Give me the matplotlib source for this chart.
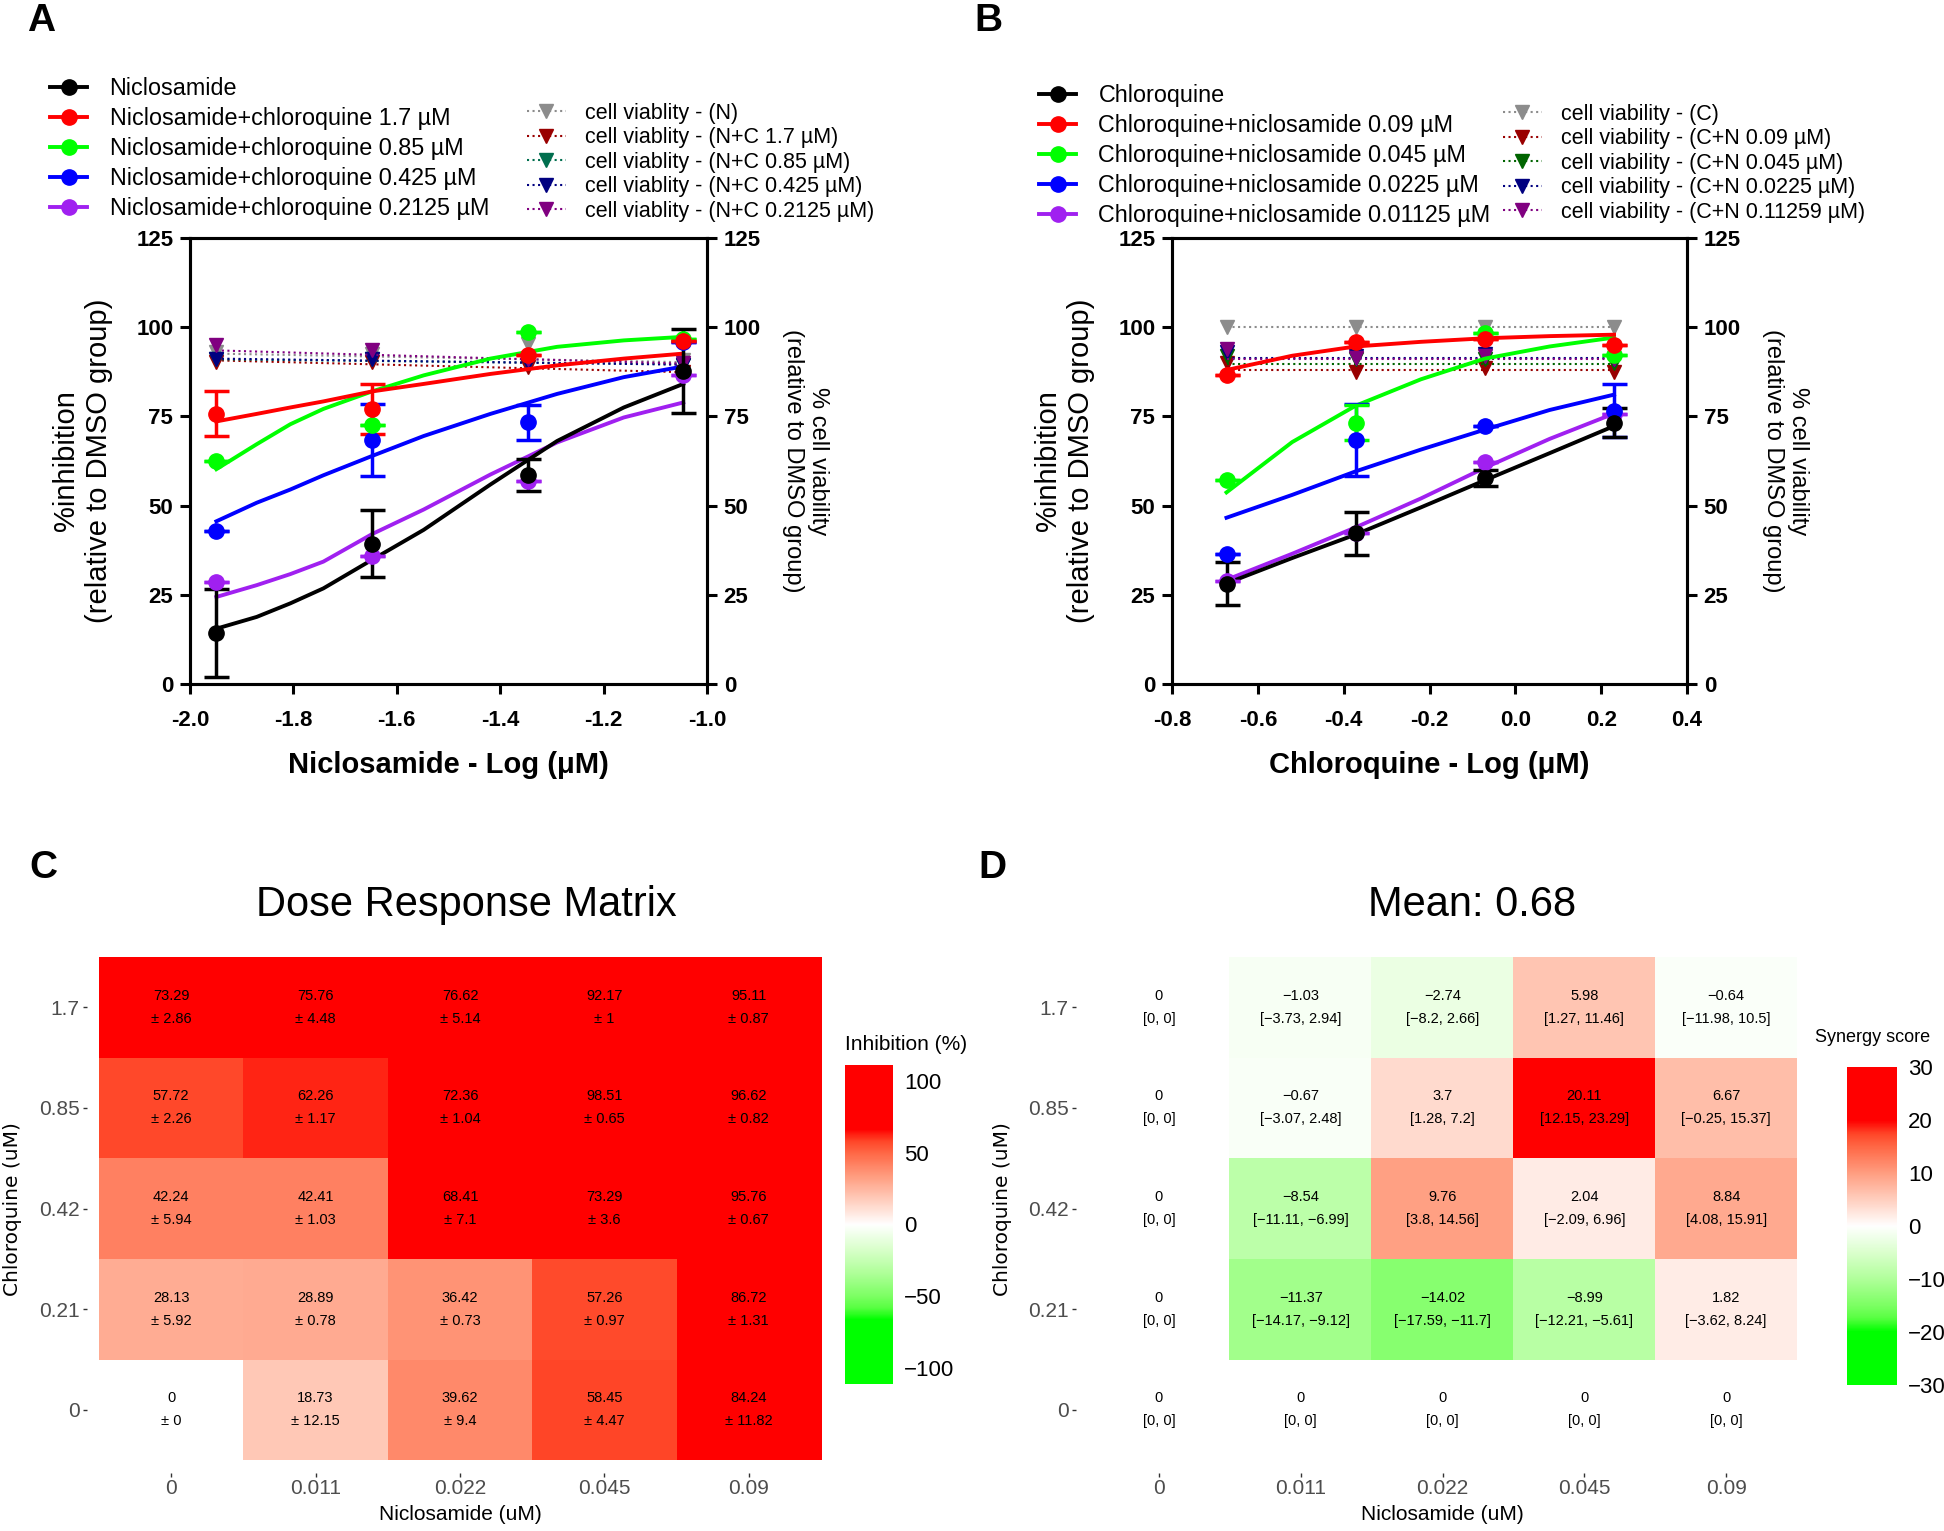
import numpy as np
import matplotlib
matplotlib.use('Agg')
import matplotlib.pyplot as plt
from matplotlib.colors import LinearSegmentedColormap, Normalize
from matplotlib.lines import Line2D

plt.rcParams['font.family'] = ['Liberation Sans', 'DejaVu Sans']
plt.rcParams['axes.unicode_minus'] = False

# ---------------- panel A : niclosamide (log10 uM) ----------------
xA = [-1.949, -1.648, -1.347, -1.046]
namesA = ['Niclosamide', 'Niclosamide+chloroquine 1.7 µM', 'Niclosamide+chloroquine 0.85 µM',
          'Niclosamide+chloroquine 0.425 µM', 'Niclosamide+chloroquine 0.2125 µM']
inhA = [[14.3, 39.3, 58.5, 87.7],
        [75.8, 77.1, 92.1, 96.0],
        [62.5, 72.6, 98.7, 96.62],
        [43.0, 68.4, 73.3, 95.76],
        [28.7, 35.9, 56.9, 86.72]]
errA = [[12.4, 9.4, 4.5, 11.8],
        [6.4, 7.1, 0, 0],
        [0, 0, 0, 0],
        [0, 10.1, 5.0, 0],
        [0, 0, 0, 0]]
# fitted curves
xfitA = [-1.949, -1.871, -1.806, -1.742, -1.648, -1.548, -1.419, -1.290, -1.161, -1.046]
fitA = [[15.5, 18.8, 22.6, 26.8, 34.8, 43.2, 55.9, 68.1, 77.5, 84.1],
        [73.6, 75.7, 77.5, 79.2, 82.0, 84.1, 86.9, 89.3, 91.2, 92.6],
        [60.2, 67.2, 72.8, 77.1, 82.0, 86.5, 91.2, 94.5, 96.3, 97.3],
        [45.6, 50.8, 54.5, 58.5, 63.9, 69.5, 75.7, 81.3, 86.0, 89.0],
        [24.4, 27.7, 30.8, 34.3, 42.0, 48.9, 58.7, 67.7, 74.7, 78.9]]
vnamesA = ['cell viablity - (N)', 'cell viablity - (N+C 1.7 µM)', 'cell viablity - (N+C 0.85 µM)',
           'cell viablity - (N+C 0.425 µM)', 'cell viablity - (N+C 0.2125 µM)']
viabA = [[93.0, 92.6, 95.4, 90.7],
         [90.2, 90.2, 88.8, 87.4],
         [91.0, 91.0, 90.0, 89.5],
         [91.2, 91.0, 90.0, 89.5],
         [94.9, 93.5, 91.0, 90.0]]
viabfitA = [[92.6, 90.2], [90.7, 87.4], [91.0, 89.6], [91.2, 89.5], [93.5, 89.8]]

# ---------------- panel B : chloroquine (log10 uM) ----------------
xB = [-0.673, -0.372, -0.071, 0.230]
namesB = ['Chloroquine', 'Chloroquine+niclosamide 0.09 µM', 'Chloroquine+niclosamide 0.045 µM',
          'Chloroquine+niclosamide 0.0225 µM', 'Chloroquine+niclosamide 0.01125 µM']
inhB = [[28.13, 42.24, 57.72, 73.29],
        [86.72, 95.76, 96.62, 95.11],
        [57.26, 73.29, 98.51, 92.17],
        [36.42, 68.41, 72.36, 76.62],
        [28.89, 42.41, 62.26, 75.76]]
errB = [[6, 6, 2.3, 4],
        [0, 0, 0, 0],
        [0, 5, 0, 0],
        [0, 10, 0, 7.5],
        [0, 0, 0, 0]]
xfitB = [-0.673, -0.52, -0.372, -0.22, -0.071, 0.08, 0.230]
fitB = [[28.2, 35.3, 41.9, 49.5, 57.1, 64.7, 72.3],
        [88, 92, 94.6, 95.9, 96.9, 97.5, 97.9],
        [53.7, 67.8, 78, 85.4, 91.2, 94.6, 97.1],
        [46.6, 53, 59.6, 65.7, 71.3, 76.8, 81.1],
        [29.2, 36.5, 43.9, 52, 60.6, 68.7, 75.8]]
vnamesB = ['cell viability - (C)', 'cell viability - (C+N 0.09 µM)', 'cell viability - (C+N 0.045 µM)',
           'cell viability - (C+N 0.0225 µM)', 'cell viability - (C+N 0.11259 µM)']
viabB = [[100, 100, 100, 100],
         [90, 87.5, 88.5, 87.5],
         [92, 91, 91, 90],
         [93, 92, 92.5, 91],
         [94, 91.5, 92, 91]]
viabfitB = [[100, 100], [88, 88], [89.7, 89.7], [91.5, 91.5], [91, 91]]

colors = ['black', '#ff0000', '#00ff00', '#0000ff', '#a020f0']
vcolorsA = ['#8c8c8c', '#990000', '#006e4e', '#000080', '#800080']
vcolorsB = ['#8c8c8c', '#990000', '#006400', '#000080', '#800080']

# ---------------- panel C / D : heatmaps ----------------
nic_labels = ['0', '0.011', '0.022', '0.045', '0.09']
chl_labels = ['0', '0.21', '0.42', '0.85', '1.7']   # bottom -> top
inhib = [[0, 18.73, 39.62, 58.45, 84.24],
         [28.13, 28.89, 36.42, 57.26, 86.72],
         [42.24, 42.41, 68.41, 73.29, 95.76],
         [57.72, 62.26, 72.36, 98.51, 96.62],
         [73.29, 75.76, 76.62, 92.17, 95.11]]
inhib_sd = [[0, 12.15, 9.4, 4.47, 11.82],
            [5.92, 0.78, 0.73, 0.97, 1.31],
            [5.94, 1.03, 7.1, 3.6, 0.67],
            [2.26, 1.17, 1.04, 0.65, 0.82],
            [2.86, 4.48, 5.14, 1, 0.87]]
syn = [[0, 0, 0, 0, 0],
       [0, -11.37, -14.02, -8.99, 1.82],
       [0, -8.54, 9.76, 2.04, 8.84],
       [0, -0.67, 3.7, 20.11, 6.67],
       [0, -1.03, -2.74, 5.98, -0.64]]
syn_lo = [[0, 0, 0, 0, 0],
          [0, -14.17, -17.59, -12.21, -3.62],
          [0, -11.11, 3.8, -2.09, 4.08],
          [0, -3.07, 1.28, 12.15, -0.25],
          [0, -3.73, -8.2, 1.27, -11.98]]
syn_hi = [[0, 0, 0, 0, 0],
          [0, -9.12, -11.7, -5.61, 8.24],
          [0, -6.99, 14.56, 6.96, 15.91],
          [0, 2.48, 7.2, 23.29, 15.37],
          [0, 2.94, 2.66, 11.46, 10.5]]

cmap = LinearSegmentedColormap.from_list('gwr', [
    (0, '#00ff00'), (0.1667, '#00ff00'), (0.2083, '#58ff42'), (0.25, '#7dff64'),
    (0.3333, '#b1ff9b'), (0.4167, '#dbffcd'), (0.5, '#ffffff'), (0.5833, '#ffcfbf'),
    (0.6667, '#ff9e81'), (0.75, '#ff6846'), (0.7917, '#ff4628'), (0.8333, '#ff0000'),
    (1, '#ff0000')], N=511)

W, H = 1944, 1531
fig = plt.figure(figsize=(W / 100, H / 100), dpi=100)


def frac(x0, y0, x1, y1):
    return [x0 / W, 1 - y1 / H, (x1 - x0) / W, (y1 - y0) / H]


def dose_panel(rect, x, inh, err, xfit, fit, viab, viabfit, vcolors, xlim, xticks, xlabel):
    ax = fig.add_axes(rect)
    for i in range(5):
        ax.plot(x, viab[i], 'v', color=vcolors[i], ms=10, zorder=2)
        ax.plot([x[0], x[-1]], viabfit[i], ':', color=vcolors[i], lw=1.5, zorder=2)
    for i in [4, 3, 2, 1, 0]:
        ax.plot(xfit, fit[i], color=colors[i], lw=2.8, zorder=3)
        ax.errorbar(x, inh[i], yerr=err[i], fmt='o', color=colors[i], ms=11,
                    elinewidth=2.5, capsize=9, capthick=2.5, zorder=4)
    ax.set_xlim(*xlim)
    ax.set_ylim(0, 125)
    ax.set_xticks(xticks)
    ax.set_xticklabels(['%.1f' % t for t in xticks])
    ax.set_yticks([0, 25, 50, 75, 100, 125])
    for s in ax.spines.values():
        s.set_linewidth(2.2)
    ax.tick_params(direction='out', length=7, width=2.2, labelsize=16, pad=5)
    ax.tick_params(axis='x', pad=12)
    for lab in ax.get_xticklabels() + ax.get_yticklabels():
        lab.set_fontweight('bold')
    ax.set_xlabel(xlabel, fontsize=21, fontweight='bold', labelpad=14)
    ax.set_ylabel('%inhibition\n(relative to DMSO group)', fontsize=21, labelpad=17)
    ax2 = ax.twinx()
    ax2.set_ylim(0, 125)
    ax2.set_yticks([0, 25, 50, 75, 100, 125])
    ax2.tick_params(direction='out', length=7, width=2.2, labelsize=16, pad=5)
    for lab in ax2.get_yticklabels():
        lab.set_fontweight('bold')
    for s in ax2.spines.values():
        s.set_linewidth(2.2)
    ax2.set_ylabel('% cell viability\n(relative to DMSO group)', fontsize=17,
                   rotation=270, va='bottom', labelpad=15)
    return ax


def legends(names, vnames, vcolors, pos1, pos2):
    h1 = [Line2D([], [], color=c, lw=2.8, marker='o', ms=11) for c in colors]
    fig.legend(h1, names, loc='upper left', bbox_to_anchor=pos1, frameon=False,
               fontsize=16.8, handlelength=1.6, handletextpad=0.95, labelspacing=0.3,
               borderpad=0, borderaxespad=0)
    h2 = [Line2D([], [], color=c, lw=1.5, ls=':', marker='v', ms=10) for c in vcolors]
    fig.legend(h2, vnames, loc='upper left', bbox_to_anchor=pos2, frameon=False,
               fontsize=15.5, handlelength=1.8, handletextpad=0.9, labelspacing=0.16,
               borderpad=0, borderaxespad=0)


dose_panel(frac(190, 238, 707, 684), xA, inhA, errA, xfitA, fitA, viabA, viabfitA, vcolorsA,
           (-2.0, -1.0), [-2.0, -1.8, -1.6, -1.4, -1.2, -1.0], 'Niclosamide - Log (μM)')
legends(namesA, vnamesA, vcolorsA, (50 / W, 1 - 77 / H), (527 / W, 1 - 103 / H))

dose_panel(frac(1172, 238, 1687, 684), xB, inhB, errB, xfitB, fitB, viabB, viabfitB, vcolorsB,
           (-0.8, 0.4), [-0.8, -0.6, -0.4, -0.2, 0.0, 0.2, 0.4], 'Chloroquine - Log (μM)')
legends(namesB, vnamesB, vcolorsB, (1039 / W, 1 - 84 / H), (1503 / W, 1 - 104 / H))


def fmt(v):
    return ('%g' % v).replace('-', '\u2212')


def heat_panel(rect, mat, lim, cell_text, title, title_x, cbar_rect, cbar_ticks, cbar_title,
               cbar_title_xy, cbar_title_size, ylab_x):
    ax = fig.add_axes(rect)
    norm = Normalize(-lim, lim)
    ax.imshow(np.array(mat), cmap=cmap, norm=norm, origin='lower', aspect='auto',
              extent=(-0.5, 4.5, -0.5, 4.5), interpolation='nearest')
    for i in range(5):
        for j in range(5):
            t1, t2 = cell_text(i, j)
            ax.text(j, i + 0.115, t1, ha='center', va='center', fontsize=10.5)
            ax.text(j, i - 0.115, t2, ha='center', va='center', fontsize=10.5)
    ax.set_xticks(range(5))
    ax.set_xticklabels(nic_labels)
    ax.set_yticks(range(5))
    ax.set_yticklabels(chl_labels)
    for s in ax.spines.values():
        s.set_visible(False)
    ax.spines['bottom'].set_position(('outward', 9))
    ax.spines['left'].set_position(('outward', 9))
    ax.tick_params(length=3, width=1, color='#333333', labelcolor='#4d4d4d', labelsize=15, pad=2)
    fig.text(title_x / W, 1 - 905 / H, title, ha='center', va='center', fontsize=30)
    fig.text((rect[0] + rect[2] / 2), 1 - 1515 / H, 'Niclosamide (uM)', ha='center',
             va='center', fontsize=15)
    fig.text(ylab_x / W, 1 - 1209 / H, 'Chloroquine (uM)', ha='center', va='center',
             rotation=90, fontsize=14.5, family='DejaVu Sans')
    cax = fig.add_axes(cbar_rect)
    ext = lim * (111.0 / 100 if lim > 50 else 1.0)
    grad = np.linspace(-ext, ext, 300)[:, None]
    cax.imshow(grad, cmap=cmap, norm=norm, aspect='auto', origin='lower',
               extent=(0, 1, -ext, ext))
    cax.set_xticks([])
    cax.yaxis.tick_right()
    cax.set_yticks(cbar_ticks)
    cax.set_yticklabels([fmt(t) for t in cbar_ticks])
    cax.tick_params(length=0, labelsize=16, pad=8)
    for s in cax.spines.values():
        s.set_visible(False)
    fig.text(cbar_title_xy[0] / W, 1 - cbar_title_xy[1] / H, cbar_title, ha='left', va='center',
             fontsize=cbar_title_size)


heat_panel(frac(99, 957, 821, 1460), inhib, 100,
           lambda i, j: (fmt(inhib[i][j]), '± ' + fmt(inhib_sd[i][j])),
           'Dose Response Matrix', 466, frac(845, 1065, 893, 1384),
           [-100, -50, 0, 50, 100], 'Inhibition (%)', (845, 1044), 15, 13)

heat_panel(frac(1088, 957, 1797, 1460), syn, 30,
           lambda i, j: (fmt(syn[i][j]), '[%s, %s]' % (fmt(syn_lo[i][j]), fmt(syn_hi[i][j]))),
           'Mean: 0.68', 1472, frac(1847, 1067, 1897, 1385),
           [-30, -20, -10, 0, 10, 20, 30], 'Synergy score', (1815, 1038), 13, 1002)

for lab, x, y in [('A', 41, 21), ('B', 988, 21), ('C', 43, 868), ('D', 992, 868)]:
    fig.text(x / W, 1 - y / H, lab, ha='center', va='center', fontsize=28, fontweight='bold')

fig.savefig('out.png', dpi=100)
